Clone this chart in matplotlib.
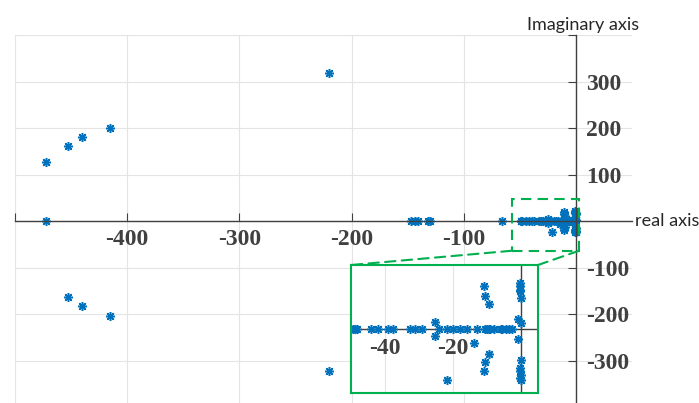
"""Pole map of the closed-loop system with a zoomed inset near the origin."""

import matplotlib.pyplot as plt
from matplotlib.patches import Rectangle, ConnectionPatch

BLUE = "#0072BD"
GREEN = "#00B050"
AXC = "#404040"

# far poles (main plot only)
far_re = [-472.5, -452.4, -439.9, -415.4, -472.5, -220.3,
          -452.4, -439.9, -415.6, -220.3,
          -146.7, -143.7, -140.8, -131.9, -130.1, -65.5]
far_im = [127, 161, 181, 201, 0, 319,
          -163, -183, -205, -322,
          0, 0, 0, 0, 0, 0]

# poles close to the origin (shown in both plots)
near_re = [-49.4, -48.8, -48.1, -44.1, -42.1, -39.2, -37.7, -32.5, -31.2,
           -29.0, -24.1, -21.8, -19.9, -17.9, -15.9, -12.9, -10.5, -10.0,
           -9.5, -9.0, -8.0, -6.0, -5.5, -4.5, -3.6, -2.6,
           -25.3, -25.3,
           -11.0, -10.5, -9.5, -13.9, -9.5, -10.5, -11.0, -21.7,
           -0.4, -0.4, -0.4, -0.2, 0.1, -0.9, 0.0, -0.8,
           0.0, -0.4, -0.4, 0.0, -0.4, 0.0]
near_im = [0, 0, 0, 0, 0, 0, 0, 0, 0,
           0, 0, 0, 0, 0, 0, 0, 0, 0,
           0, 0, 0, 0, 0, 0, 0, 0,
           3.5, -3.5,
           20.0, 15.3, 11.7, -6.6, -11.7, -15.5, -19.8, -23.8,
           21.6, 20.0, 18.4, 17.7, 14.5, 4.7, 2.8, -4.5,
           -14.4, -18.3, -19.8, -21.4, -23.0, -23.8]

xticks = [-500, -400, -300, -200, -100, 0]
xlabels = ["", "-400", "-300", "-200", "-100", ""]
yticks = [-300, -200, -100, 0, 100, 200, 300, 400]
ylabels = ["-300", "-200", "-100", "", "100", "200", "300", ""]
inset_ticks = [-40, -20]

tick_font = dict(family="Liberation Serif", weight="bold", size=17, color=AXC)
mk = dict(ls="none", marker=(8, 2, 0), ms=6.5, mew=1.1, color=BLUE)

fig = plt.figure(figsize=(6.99, 4.03), dpi=100)
ax = fig.add_axes([0.0215, 0.0, 0.8827, 0.9132])
ax.set_xlim(-500, 50)
ax.set_ylim(-391, 400)

ax.plot(far_re, far_im, **mk)
ax.plot(near_re, near_im, **mk)

for s in ["left", "top"]:
    ax.spines[s].set_visible(False)
ax.spines["bottom"].set_position(("data", 0))
ax.spines["right"].set_position(("data", 0))
for s in ["bottom", "right"]:
    ax.spines[s].set_color(AXC)
    ax.spines[s].set_linewidth(1.0)
ax.yaxis.tick_right()

ax.set_xticks(xticks, xlabels)
ax.set_yticks(yticks, ylabels)
for lab in ax.get_xticklabels() + ax.get_yticklabels():
    lab.set_fontfamily(tick_font["family"])
    lab.set_fontweight(tick_font["weight"])
    lab.set_fontsize(tick_font["size"])
    lab.set_color(tick_font["color"])
ax.tick_params(axis="x", direction="in", length=6, color=AXC, pad=6)
ax.tick_params(axis="y", direction="in", length=6, color=AXC, pad=7)
ax.grid(True, color="#e4e4e4", lw=0.8)
ax.set_axisbelow(True)

ax.text(1.005, 391 / 791, "real axis", transform=ax.transAxes,
        ha="left", va="center", fontsize=13, family="Lato", color="#262626")
ax.text(6, 404, "Imaginary axis", fontsize=13, family="Lato",
        color="#262626", ha="center", va="bottom", clip_on=False)

# zoom window in the main plot
x0, x1, y0, y1 = -57.3, 2.7, -63.8, 47.3
ax.add_patch(Rectangle((x0, y0), x1 - x0, y1 - y0, fill=False, ec=GREEN,
                       lw=1.5, ls=(0, (5, 3)), zorder=5))

# inset
ins = fig.add_axes([0.5021, 0.0248, 0.2675, 0.3176])
ins.set_facecolor("white")
ins.set_xlim(-50, 5)
ins.set_ylim(-30, 30)
ins.plot(near_re, near_im, **mk)
ins.axhline(0, color=AXC, lw=1.0, zorder=1)
ins.axvline(0, color=AXC, lw=1.0, zorder=1)
ins.set_xticks(inset_ticks, [""] * len(inset_ticks))
ins.set_yticks([])
ins.tick_params(length=0)
ins.grid(True, axis="x", color="#e4e4e4", lw=0.8)
ins.set_axisbelow(True)
for s in ins.spines.values():
    s.set_color(GREEN)
    s.set_linewidth(1.5)
for t in inset_ticks:
    ins.annotate(str(t), (t, 0), xytext=(0, -19), textcoords="offset pixels",
                 ha="center", va="center", **tick_font)

for (xa, ya), (xb, yb) in [((x0, y0), (0, 1)), ((x1, y0), (1, 1))]:
    con = ConnectionPatch(xyA=(xa, ya), coordsA=ax.transData,
                          xyB=(xb, yb), coordsB=ins.transAxes,
                          color=GREEN, lw=1.5, ls=(0, (5, 3)))
    fig.add_artist(con)

fig.savefig("out.png", dpi=100)
